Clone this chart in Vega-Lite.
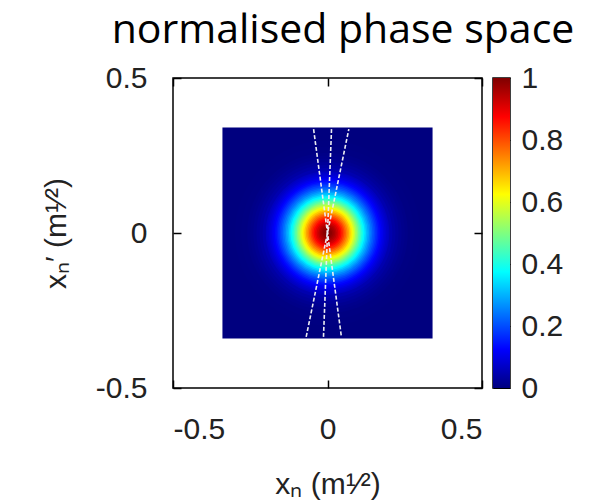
{
  "$schema": "https://vega.github.io/schema/vega-lite/v6.json",
  "padding": {"left": 40, "top": 10, "right": 0, "bottom": 0},
  "background": "white",
  "spacing": 8,
  "title": {"text": "normalised phase space", "font": "Open Sans", "fontSize": 41, "fontWeight": "normal", "color": "#000", "anchor": "middle", "dx": 41, "offset": 10},
  "datasets": {
    "bg": [{"x1": -0.34, "x2": 0.34, "y1": -0.34, "y2": 0.34, "v": 0}],
    "bar": [{"lo": 0, "hi": 1}],
    "rings": [
      {"cx": 0, "cy": 0, "r": 0.30, "v": 0.002},
      {"cx": 0, "cy": 0, "r": 0.28, "v": 0.004},
      {"cx": 0, "cy": 0, "r": 0.26, "v": 0.009},
      {"cx": 0, "cy": 0, "r": 0.25, "v": 0.013},
      {"cx": 0, "cy": 0, "r": 0.24, "v": 0.019},
      {"cx": 0, "cy": 0, "r": 0.23, "v": 0.026},
      {"cx": 0, "cy": 0, "r": 0.22, "v": 0.035},
      {"cx": 0, "cy": 0, "r": 0.21, "v": 0.047},
      {"cx": 0, "cy": 0, "r": 0.20, "v": 0.063},
      {"cx": 0, "cy": 0, "r": 0.195, "v": 0.072},
      {"cx": 0, "cy": 0, "r": 0.19, "v": 0.082},
      {"cx": 0, "cy": 0, "r": 0.185, "v": 0.094},
      {"cx": 0, "cy": 0, "r": 0.18, "v": 0.106},
      {"cx": 0, "cy": 0, "r": 0.175, "v": 0.120},
      {"cx": 0, "cy": 0, "r": 0.17, "v": 0.135},
      {"cx": 0, "cy": 0, "r": 0.165, "v": 0.152},
      {"cx": 0, "cy": 0, "r": 0.16, "v": 0.170},
      {"cx": 0, "cy": 0, "r": 0.155, "v": 0.190},
      {"cx": 0, "cy": 0, "r": 0.15, "v": 0.211},
      {"cx": 0, "cy": 0, "r": 0.145, "v": 0.233},
      {"cx": 0, "cy": 0, "r": 0.14, "v": 0.258},
      {"cx": 0, "cy": 0, "r": 0.135, "v": 0.283},
      {"cx": 0, "cy": 0, "r": 0.13, "v": 0.310},
      {"cx": 0, "cy": 0, "r": 0.125, "v": 0.339},
      {"cx": 0, "cy": 0, "r": 0.12, "v": 0.369},
      {"cx": 0, "cy": 0, "r": 0.115, "v": 0.400},
      {"cx": 0, "cy": 0, "r": 0.11, "v": 0.433},
      {"cx": 0, "cy": 0, "r": 0.105, "v": 0.466},
      {"cx": 0, "cy": 0, "r": 0.10, "v": 0.501},
      {"cx": 0, "cy": 0, "r": 0.095, "v": 0.535},
      {"cx": 0, "cy": 0, "r": 0.09, "v": 0.571},
      {"cx": 0, "cy": 0, "r": 0.085, "v": 0.607},
      {"cx": 0, "cy": 0, "r": 0.08, "v": 0.642},
      {"cx": 0, "cy": 0, "r": 0.075, "v": 0.678},
      {"cx": 0, "cy": 0, "r": 0.07, "v": 0.712},
      {"cx": 0, "cy": 0, "r": 0.065, "v": 0.746},
      {"cx": 0, "cy": 0, "r": 0.06, "v": 0.779},
      {"cx": 0, "cy": 0, "r": 0.055, "v": 0.811},
      {"cx": 0, "cy": 0, "r": 0.05, "v": 0.841},
      {"cx": 0, "cy": 0, "r": 0.045, "v": 0.869},
      {"cx": 0, "cy": 0, "r": 0.04, "v": 0.895},
      {"cx": 0, "cy": 0, "r": 0.035, "v": 0.919},
      {"cx": 0, "cy": 0, "r": 0.03, "v": 0.940},
      {"cx": 0, "cy": 0, "r": 0.025, "v": 0.958},
      {"cx": 0, "cy": 0, "r": 0.02, "v": 0.973},
      {"cx": 0, "cy": 0, "r": 0.015, "v": 0.985},
      {"cx": 0, "cy": 0, "r": 0.01, "v": 0.993},
      {"cx": 0, "cy": 0, "r": 0.005, "v": 0.998}
    ],
    "lines": [
      {"id": "a", "x": -0.045, "y": 0.335},
      {"id": "a", "x": 0.045, "y": -0.335},
      {"id": "b", "x": 0.013, "y": 0.335},
      {"id": "b", "x": -0.013, "y": -0.335},
      {"id": "c", "x": 0.069, "y": 0.335},
      {"id": "c", "x": -0.069, "y": -0.335}
    ]
  },
  "hconcat": [
    {
      "width": 309,
      "height": 310,
      "layer": [
        {
          "data": {"name": "bg"},
          "mark": {"type": "rect"},
          "encoding": {
            "x": {"field": "x1", "type": "quantitative", "scale": {"domain": [-0.5, 0.5], "nice": false, "zero": false},
                  "axis": {"orient": "bottom", "values": [-0.5, 0, 0.5], "format": ".1~f", "labelExpr": "replace(datum.label, '−', '-')", "tickSize": -8, "labelPadding": 34, "title": "xₙ (m¹⁄²)", "titlePadding": 25}},
            "x2": {"field": "x2"},
            "y": {"field": "y1", "type": "quantitative", "scale": {"domain": [-0.5, 0.5], "nice": false, "zero": false},
                  "axis": {"orient": "left", "values": [-0.5, 0, 0.5], "format": ".1~f", "labelExpr": "replace(datum.label, '−', '-')", "tickSize": -8, "labelPadding": 34, "title": "xₙ′ (m¹⁄²)", "titlePadding": 24}},
            "y2": {"field": "y2"},
            "color": {"field": "v", "type": "quantitative",
                      "scale": {"domain": [0, 0.125, 0.25, 0.375, 0.5, 0.625, 0.75, 0.875, 1], "range": ["#00007f", "#0000ff", "#007fff", "#00ffff", "#7fff7f", "#ffff00", "#ff7f00", "#ff0000", "#7f0000"], "interpolate": "rgb"},
                      "legend": null}
          }
        },
        {
          "data": {"name": "rings"},
          "mark": {"type": "point", "shape": "circle", "filled": true, "opacity": 1, "strokeWidth": 0},
          "encoding": {
            "x": {"field": "cx", "type": "quantitative", "scale": {"domain": [-0.5, 0.5], "nice": false, "zero": false},
                  "axis": {"orient": "top", "values": [-0.5, 0, 0.5], "labels": false, "title": null, "tickSize": -8}},
            "y": {"field": "cy", "type": "quantitative", "scale": {"domain": [-0.5, 0.5], "nice": false, "zero": false},
                  "axis": {"orient": "right", "values": [-0.5, 0, 0.5], "labels": false, "title": null, "tickSize": -8}},
            "size": {"field": "r", "type": "quantitative", "scale": {"type": "pow", "exponent": 2, "domain": [0, 0.5], "range": [0, 95481]}, "legend": null},
            "color": {"field": "v", "type": "quantitative", "legend": null},
            "order": {"field": "r", "sort": "descending"}
          }
        },
        {
          "data": {"name": "lines"},
          "mark": {"type": "line", "color": "#ececf2", "strokeWidth": 1.6, "strokeDash": [4, 2]},
          "encoding": {
            "x": {"field": "x", "type": "quantitative", "scale": {"domain": [-0.5, 0.5], "nice": false, "zero": false}, "axis": null},
            "y": {"field": "y", "type": "quantitative", "scale": {"domain": [-0.5, 0.5], "nice": false, "zero": false}, "axis": null},
            "detail": {"field": "id"}
          }
        }
      ],
      "resolve": {"axis": {"x": "independent", "y": "independent"}}
    },
    {
      "width": 17,
      "height": 310,
      "data": {"name": "bar"},
      "mark": {"type": "rect", "color": {"gradient": "linear", "x1": 0, "y1": 1, "x2": 0, "y2": 0,
        "stops": [
          {"offset": 0, "color": "#00007f"},
          {"offset": 0.125, "color": "#0000ff"},
          {"offset": 0.25, "color": "#007fff"},
          {"offset": 0.375, "color": "#00ffff"},
          {"offset": 0.5, "color": "#7fff7f"},
          {"offset": 0.625, "color": "#ffff00"},
          {"offset": 0.75, "color": "#ff7f00"},
          {"offset": 0.875, "color": "#ff0000"},
          {"offset": 1, "color": "#7f0000"}
        ]}},
      "encoding": {
        "y": {"field": "lo", "type": "quantitative", "scale": {"domain": [0, 1], "nice": false},
              "axis": {"orient": "right", "values": [0, 0.2, 0.4, 0.6, 0.8, 1], "format": ".1~f", "ticks": false, "grid": true, "gridColor": "#000", "gridWidth": 1, "gridOpacity": 1, "labelPadding": 11, "title": null, "labelFlush": false}},
        "y2": {"field": "hi"}
      }
    }
  ],
  "config": {
    "view": {"stroke": "#000", "strokeWidth": 1.5},
    "axis": {"grid": false, "domain": false, "tickColor": "#000", "tickWidth": 1.5, "labelFont": "Liberation Sans", "labelFontSize": 30, "labelColor": "#222", "titleFont": "Liberation Sans", "titleFontSize": 30, "titleFontWeight": "normal", "titleColor": "#222"}
  }
}
